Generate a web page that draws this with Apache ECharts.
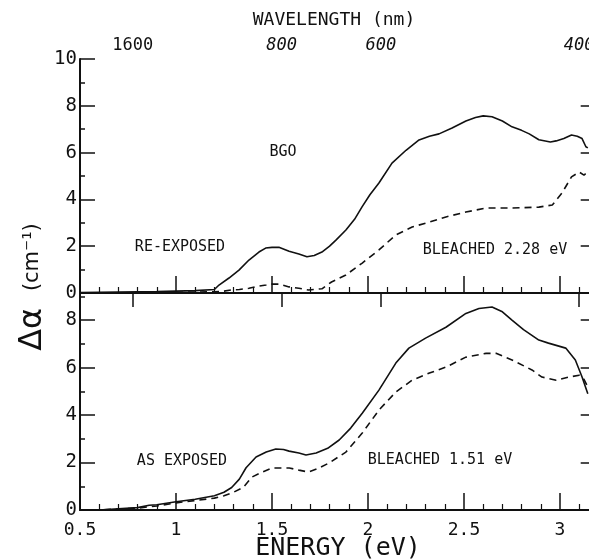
<!DOCTYPE html>
<html><head><meta charset="utf-8">
<script src="https://cdn.jsdelivr.net/npm/echarts@6/dist/echarts.min.js"></script>
<style>html,body{margin:0;padding:0;background:#fff}#c{width:589px;height:559px}</style>
</head><body><div id="c"></div><script>
// ---- data ----
const energyTicks = [0.5, 1, 1.5, 2, 2.5, 3];
const energyMinorTicks = [0.6,0.7,0.8,0.9,1.1,1.2,1.3,1.4,1.6,1.7,1.8,1.9,2.1,2.2,2.3,2.4,2.6,2.7,2.8,2.9,3.1];
const wavelengthTicks = [1600, 800, 600, 400];
const topYTicks = [0, 2, 4, 6, 8, 10];
const botYTicks = [0, 2, 4, 6, 8];
const yMinorTicks = [1, 3, 5, 7, 9];
const rightYTicks = [2, 4, 6, 8];

// top panel: RE-EXPOSED (solid) and BLEACHED 2.28 eV (dashed)
const topSolidE = [0.5,0.6,0.7,0.8,0.9,1.0,1.1,1.2,1.224,1.276,1.328,1.38,1.432,1.467,1.5,1.536,1.589,1.64,1.682,1.72,1.76,1.8,1.833,1.885,1.93,1.969,2.01,2.057,2.125,2.198,2.266,2.32,2.37,2.438,2.51,2.56,2.6,2.646,2.7,2.75,2.8,2.84,2.89,2.95,2.98,3.02,3.06,3.09,3.115,3.135,3.145];
const topSolidV = [0.02,0.03,0.04,0.05,0.06,0.08,0.1,0.15,0.34,0.64,0.98,1.41,1.75,1.92,1.95,1.95,1.78,1.67,1.55,1.6,1.75,2.0,2.26,2.69,3.15,3.68,4.2,4.7,5.55,6.1,6.54,6.7,6.8,7.05,7.35,7.5,7.57,7.53,7.35,7.1,6.95,6.8,6.55,6.45,6.5,6.6,6.75,6.7,6.6,6.25,6.2];
const topDashE = [0.5,0.7,0.9,1.1,1.2,1.25,1.29,1.33,1.38,1.42,1.47,1.5,1.536,1.589,1.64,1.69,1.76,1.81,1.885,1.97,2.057,2.145,2.23,2.32,2.406,2.51,2.615,2.75,2.89,2.96,3.01,3.06,3.1,3.125,3.145];
const topDashV = [0.0,0.0,0.02,0.04,0.05,0.08,0.13,0.15,0.2,0.28,0.34,0.38,0.38,0.26,0.2,0.13,0.18,0.47,0.77,1.28,1.84,2.48,2.82,3.03,3.25,3.46,3.63,3.63,3.67,3.76,4.27,4.96,5.17,5.04,5.17];

// bottom panel: AS EXPOSED (solid) and BLEACHED 1.51 eV (dashed)
const botSolidE = [0.5,0.6,0.7,0.8,0.86,0.9,1.0,1.1,1.2,1.25,1.29,1.33,1.365,1.417,1.47,1.52,1.56,1.589,1.64,1.677,1.73,1.79,1.85,1.91,1.97,2.057,2.145,2.213,2.30,2.406,2.51,2.578,2.646,2.7,2.75,2.81,2.89,2.94,3.03,3.08,3.115,3.145];
const botSolidV = [-0.05,0.0,0.05,0.1,0.2,0.22,0.35,0.45,0.6,0.75,0.95,1.3,1.78,2.23,2.44,2.57,2.55,2.48,2.4,2.32,2.4,2.6,2.95,3.45,4.08,5.05,6.19,6.82,7.24,7.7,8.28,8.49,8.55,8.35,8.0,7.6,7.16,7.03,6.82,6.32,5.6,4.9];
const botDashE = [0.5,0.6,0.7,0.8,0.9,1.0,1.1,1.2,1.25,1.3,1.35,1.396,1.45,1.5,1.59,1.64,1.69,1.74,1.797,1.885,1.97,2.057,2.145,2.23,2.32,2.406,2.51,2.615,2.667,2.75,2.854,2.906,2.98,3.047,3.1,3.125,3.145];
const botDashV = [-0.05,0.0,0.04,0.08,0.17,0.3,0.4,0.5,0.6,0.75,0.95,1.39,1.6,1.77,1.77,1.68,1.6,1.75,1.98,2.44,3.24,4.21,4.97,5.47,5.77,6.02,6.44,6.6,6.6,6.32,5.9,5.6,5.47,5.6,5.68,5.5,5.18];

const zip = (xs, ys) => xs.map((x, i) => [x, ys[i]]);

// ---- chart ----
const black = '#111';
const lineW = 1.6;
const XMIN = 0.5, XMAX = 3.16;
const labelFont = 'DejaVu Sans Mono';
function xMajor(grid, showLabels) {
  return {
    gridIndex: grid, type: 'value', min: XMIN, max: XMAX, position: 'bottom',
    axisLine: { show: true, lineStyle: { color: black, width: 2 } },
    axisTick: { show: true, inside: true, length: 17, customValues: energyTicks, lineStyle: { color: black, width: 1.5 } },
    axisLabel: showLabels ? { show: true, customValues: energyTicks, color: black, fontFamily: labelFont, fontSize: 18, margin: 11 } : { show: false },
    splitLine: { show: false }
  };
}
function xMinor(grid) {
  return {
    gridIndex: grid, type: 'value', min: XMIN, max: XMAX, position: 'bottom',
    axisLine: { show: false },
    axisTick: { show: true, inside: true, length: 6, customValues: energyMinorTicks, lineStyle: { color: black, width: 1.2 } },
    axisLabel: { show: false }, splitLine: { show: false }
  };
}
function yAx(grid, max, pos, ticks, len, labels, line) {
  return {
    gridIndex: grid, type: 'value', min: 0, max: max, position: pos,
    axisLine: { show: line, lineStyle: { color: black, width: 2 } },
    axisTick: { show: true, inside: true, length: len, customValues: ticks, lineStyle: { color: black, width: 1.5 } },
    axisLabel: labels ? { show: true, customValues: labels, color: black, fontFamily: labelFont, fontSize: 19, margin: 3 } : { show: false },
    splitLine: { show: false }
  };
}
const wlE = wavelengthTicks.map(w => 1240 / w);

const chart = echarts.init(document.getElementById('c'), null, { renderer: 'canvas' });
chart.setOption({
  animation: false,
  backgroundColor: '#fff',
  grid: [
    { left: 80, top: 59, width: 510.7, height: 234, outerBoundsMode: 'none', containLabel: false },
    { left: 80, top: 294, width: 510.7, height: 216, outerBoundsMode: 'none', containLabel: false }
  ],
  xAxis: [
    xMajor(0, false),
    xMinor(0),
    {
      gridIndex: 0, type: 'value', min: XMIN, max: XMAX, position: 'top',
      axisLine: { show: true, lineStyle: { color: black, width: 2 } },
      axisTick: { show: true, inside: true, length: 14, customValues: wlE, lineStyle: { color: black, width: 1.5 } },
      axisLabel: {
        show: true, customValues: wlE, margin: 5, color: black, fontFamily: labelFont, fontSize: 17,
        formatter: v => { const w = Math.round(1240 / v); return w === 1600 ? String(w) : '{i|' + w + '}'; },
        rich: { i: { fontStyle: 'italic', fontFamily: labelFont, fontSize: 17, color: black } }
      },
      splitLine: { show: false }
    },
    xMajor(1, true),
    xMinor(1),
    {
      gridIndex: 1, type: 'value', min: XMIN, max: XMAX, position: 'top',
      axisLine: { show: true, lineStyle: { color: black, width: 1.5 } },
      axisTick: { show: false }, axisLabel: { show: false }, splitLine: { show: false }
    }
  ],
  yAxis: [
    yAx(0, 10, 'left', topYTicks, 15, topYTicks, true),
    yAx(0, 10, 'left', yMinorTicks, 5, null, false),
    yAx(0, 10, 'right', rightYTicks, 10, null, true),
    yAx(1, 9.1, 'left', botYTicks, 15, botYTicks, true),
    yAx(1, 9.1, 'left', yMinorTicks, 5, null, false),
    yAx(1, 9.1, 'right', rightYTicks, 10, null, true)
  ],
  series: [
    { type: 'line', xAxisIndex: 0, yAxisIndex: 0, data: zip(topSolidE, topSolidV), showSymbol: false, lineStyle: { color: black, width: lineW }, silent: true },
    { type: 'line', xAxisIndex: 0, yAxisIndex: 0, data: zip(topDashE, topDashV), showSymbol: false, lineStyle: { color: black, width: lineW, type: [7, 5] }, silent: true },
    { type: 'line', xAxisIndex: 3, yAxisIndex: 3, data: zip(botSolidE, botSolidV), showSymbol: false, lineStyle: { color: black, width: lineW }, silent: true },
    { type: 'line', xAxisIndex: 3, yAxisIndex: 3, data: zip(botDashE, botDashV), showSymbol: false, lineStyle: { color: black, width: lineW, type: [7, 5] }, silent: true }
  ],
  graphic: [
    { type: 'text', x: 334, y: 20, style: { text: 'WAVELENGTH (nm)', fontFamily: labelFont, fontSize: 18, fill: black, align: 'center', verticalAlign: 'middle' } },
    { type: 'text', x: 338, y: 548, style: { text: 'ENERGY (eV)', fontFamily: labelFont, fontSize: 25, fill: black, align: 'center', verticalAlign: 'middle' } },
    { type: 'text', x: 33, y: 287, rotation: Math.PI / 2,
      style: { text: '{a|Δα}     {b|(cm⁻¹)}', align: 'center', verticalAlign: 'middle',
        rich: { a: { fontFamily: 'DejaVu Sans', fontSize: 32, fill: black, color: black }, b: { fontFamily: 'DejaVu Sans', fontSize: 21, fill: black, color: black } } } },
    { type: 'text', x: 283, y: 152, style: { text: 'BGO', fontFamily: labelFont, fontSize: 15, fill: black, align: 'center', verticalAlign: 'middle' } },
    { type: 'text', x: 180, y: 247, style: { text: 'RE-EXPOSED', fontFamily: labelFont, fontSize: 15, fill: black, align: 'center', verticalAlign: 'middle' } },
    { type: 'text', x: 495, y: 250, style: { text: 'BLEACHED 2.28 eV', fontFamily: labelFont, fontSize: 15, fill: black, align: 'center', verticalAlign: 'middle' } },
    { type: 'text', x: 182, y: 461, style: { text: 'AS EXPOSED', fontFamily: labelFont, fontSize: 15, fill: black, align: 'center', verticalAlign: 'middle' } },
    { type: 'text', x: 440, y: 460, style: { text: 'BLEACHED 1.51 eV', fontFamily: labelFont, fontSize: 15, fill: black, align: 'center', verticalAlign: 'middle' } }
  ]
});
</script></body></html>
